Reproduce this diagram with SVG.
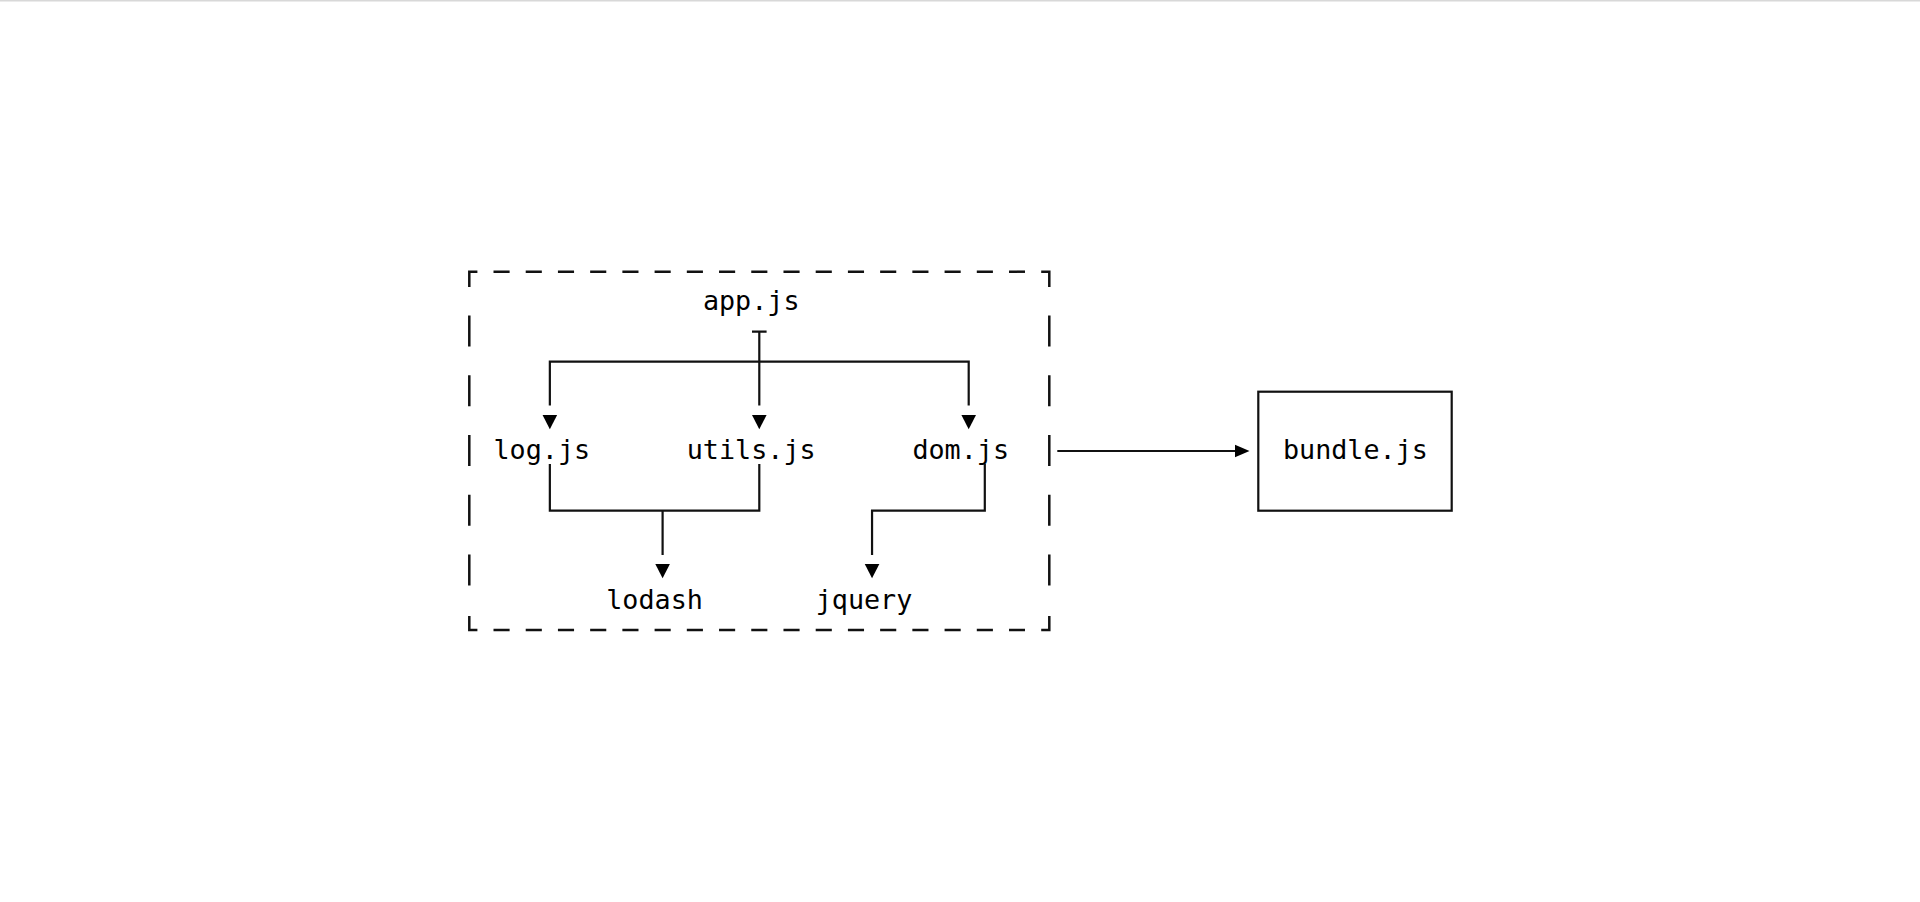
<svg xmlns="http://www.w3.org/2000/svg" width="1920" height="902" viewBox="0 0 1920 902">
<style>
.t{font-family:"DejaVu Sans Mono","Liberation Mono",monospace;font-size:26.75px;fill:#000;text-anchor:middle}
.ln{fill:none;stroke:#111;stroke-width:2.2}
.dash{fill:none;stroke:#111;stroke-width:2.5}
.ah{fill:#000;stroke:none}
</style>
<defs>
<path id="down" class="ah" d="M-7.3 0 H7.3 L0 14.3 Z"/>
</defs>
<rect x="0" y="0" width="1920" height="902" fill="#fff"/>
<rect x="0" y="0" width="1920" height="1.5" fill="#d8d8d8"/>
<g id="container">
<path class="dash" d="M469.3 287 V271.7 H477.4 M1041.2 271.7 H1049.3 V287 M469.3 616 V630 H477.4 M1041.2 630 H1049.3 V616"/>
<line class="dash" x1="493.5" y1="271.7" x2="1025" y2="271.7" stroke-dasharray="16.11 16.11"/>
<line class="dash" x1="493.5" y1="630" x2="1025" y2="630" stroke-dasharray="16.11 16.11"/>
<line class="dash" x1="469.3" y1="315.5" x2="469.3" y2="586" stroke-dasharray="31 28.72"/>
<line class="dash" x1="1049.3" y1="315.5" x2="1049.3" y2="586" stroke-dasharray="31 28.72"/>
</g>
<g id="app"><text class="t" x="751.2" y="310">app.js</text></g>
<g id="log"><text class="t" x="541.8" y="459.3">log.js</text></g>
<g id="utils"><text class="t" x="751.2" y="459.3">utils.js</text></g>
<g id="dom"><text class="t" x="960.7" y="459.3">dom.js</text></g>
<g id="lodash"><text class="t" x="654.6" y="608.6">lodash</text></g>
<g id="jquery"><text class="t" x="864" y="608.6">jquery</text></g>
<g id="bundle">
<rect class="ln" x="1258.3" y="391.7" width="193.4" height="119"/>
<text class="t" x="1355.4" y="459.3">bundle.js</text>
</g>
<g id="connectors">
<path class="ln" d="M752 331.7 H766.6 M759.3 331.7 V405.5 M549.85 405.5 V361.7 H968.7 V405.5"/>
<use href="#down" x="549.85" y="415"/>
<use href="#down" x="759.3" y="415"/>
<use href="#down" x="968.7" y="415"/>
<path class="ln" d="M549.85 464 V510.6 H759.3 V464 M662.6 510.6 V555"/>
<use href="#down" x="662.6" y="564"/>
<path class="ln" d="M984.8 464 V510.6 H872.05 V555"/>
<use href="#down" x="872.05" y="564"/>
<path class="ln" d="M1057.3 451 H1237"/>
<path class="ah" d="M1235 444.8 L1249.5 451 L1235 457.2 Z"/>
</g>
</svg>
